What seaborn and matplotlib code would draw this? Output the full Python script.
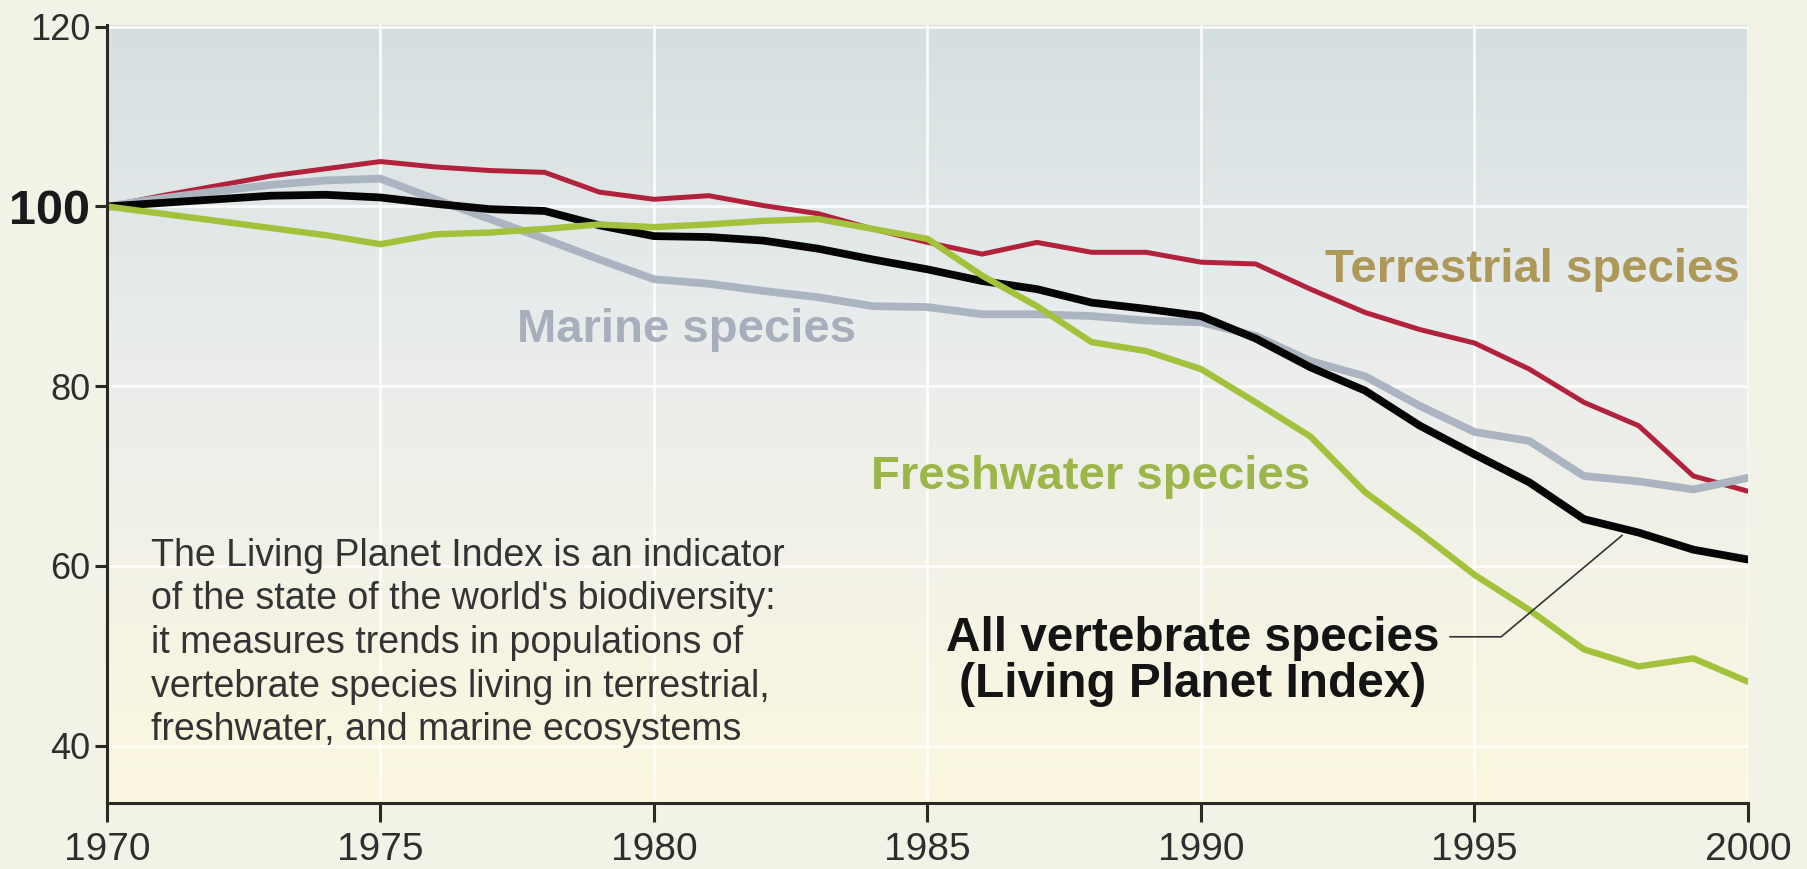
import numpy as np
import pandas as pd
import matplotlib
matplotlib.use("Agg")
import matplotlib.pyplot as plt
from matplotlib.colors import LinearSegmentedColormap
import seaborn as sns

# ---------------- data ----------------
years = [1970, 1971, 1972, 1973, 1974, 1975, 1976, 1977, 1978, 1979,
         1980, 1981, 1982, 1983, 1984, 1985, 1986, 1987, 1988, 1989,
         1990, 1991, 1992, 1993, 1994, 1995, 1996, 1997, 1998, 1999, 2000]

terrestrial = [100, 101.2, 102.3, 103.4, 104.2, 105.0, 104.4, 104.0, 103.8, 101.6,
               100.8, 101.2, 100.1, 99.2, 97.5, 96.0, 94.7, 96.0, 94.9, 94.9,
               93.8, 93.6, 90.8, 88.2, 86.3, 84.8, 81.9, 78.2, 75.6, 70.0, 68.3]

marine = [100, 100.9, 101.7, 102.4, 102.9, 103.1, 100.8, 98.6, 96.4, 94.1,
          91.9, 91.4, 90.6, 89.9, 88.9, 88.8, 88.0, 88.0, 87.8, 87.3,
          87.1, 85.6, 82.8, 81.1, 77.8, 74.9, 73.9, 70.0, 69.4, 68.5, 69.8]

all_vertebrate = [100, 100.4, 100.8, 101.2, 101.3, 101.0, 100.3, 99.7, 99.5, 97.9,
                  96.7, 96.6, 96.2, 95.3, 94.1, 93.0, 91.7, 90.8, 89.3, 88.6,
                  87.8, 85.3, 82.1, 79.5, 75.6, 72.4, 69.3, 65.2, 63.7, 61.8, 60.7]

freshwater = [100, 99.2, 98.4, 97.6, 96.8, 95.8, 96.9, 97.1, 97.5, 98.0,
              97.7, 98.0, 98.4, 98.6, 97.5, 96.4, 92.3, 88.9, 84.9, 83.9,
              81.9, 78.2, 74.4, 68.2, 63.7, 59.0, 55.1, 50.7, 48.8, 49.7, 47.1]

x_ticks = [1970, 1975, 1980, 1985, 1990, 1995, 2000]
y_ticks = [40, 60, 80, 100, 120]
y_tick_labels = ["40", "60", "80", "100", "120"]

label_terrestrial = "Terrestrial species"
label_marine = "Marine species"
label_freshwater = "Freshwater species"
label_all = "All vertebrate species\n(Living Planet Index)"
paragraph = ("The Living Planet Index is an indicator\n"
             "of the state of the world's biodiversity:\n"
             "it measures trends in populations of\n"
             "vertebrate species living in terrestrial,\n"
             "freshwater, and marine ecosystems")

# ---------------- style ----------------
sns.set_theme(style="white")
plt.rcParams['font.family'] = ['Liberation Sans', 'DejaVu Sans']

FIG_BG = "#f3f2e7"
fig = plt.figure(figsize=(18.08, 8.69), dpi=100, facecolor=FIG_BG)
ax = fig.add_axes([107 / 1808, 1 - 803 / 869, (1748 - 107) / 1808, (803 - 25) / 869])
ax.set_facecolor(FIG_BG)

# gradient panel background
grad_cmap = LinearSegmentedColormap.from_list(
    "bg", [(0.0, "#fbf7df"), (0.35, "#f2f1e8"), (0.62, "#e8ecec"), (1.0, "#d6dfe0")])
grad = np.linspace(0, 1, 256).reshape(-1, 1)
ax.imshow(grad, cmap=grad_cmap, origin="lower", extent=[0, 1, 0, 1],
          transform=ax.transAxes, aspect="auto", zorder=0, interpolation="bicubic")

df = pd.DataFrame({"year": years, "Terrestrial": terrestrial, "Marine": marine,
                   "All": all_vertebrate, "Freshwater": freshwater})

sns.lineplot(data=df, x="year", y="Terrestrial", ax=ax, color="#b3223d", linewidth=3.6, zorder=3)
sns.lineplot(data=df, x="year", y="Marine", ax=ax, color="#abb5c1", linewidth=5.6, zorder=4)
sns.lineplot(data=df, x="year", y="All", ax=ax, color="#050505", linewidth=5.6, zorder=5)
sns.lineplot(data=df, x="year", y="Freshwater", ax=ax, color="#a3c23c", linewidth=4.6, zorder=6)

ax.set_xlim(1970, 2000)
ax.set_ylim(33.6, 120.2)
ax.set_xlabel("")
ax.set_ylabel("")

ax.set_xticks(x_ticks)
ax.set_xticklabels([str(t) for t in x_ticks])
ax.set_yticks(y_ticks)
ax.set_yticklabels(y_tick_labels)

ax.grid(True, color="white", linewidth=2.0, alpha=0.85, zorder=1)
ax.set_axisbelow(True)

for side in ["top", "right"]:
    ax.spines[side].set_visible(False)
for side in ["left", "bottom"]:
    ax.spines[side].set_color("#2a2a22")
    ax.spines[side].set_linewidth(2.2)
    ax.spines[side].set_zorder(10)

ax.tick_params(axis="x", which="major", bottom=True, length=14, width=2.2,
               color="#2a2a22", pad=7, labelsize=28, labelcolor="#2e2e2e")
ax.tick_params(axis="y", which="major", left=True, length=9, width=2.2,
               color="#2a2a22", pad=3, labelsize=26, labelcolor="#2e2e2e")
for lab in ax.get_yticklabels():
    if lab.get_text() == "100":
        lab.set_fontweight("bold")
        lab.set_fontsize(35)
        lab.set_color("#1a1a1a")

# ---------------- annotations ----------------
ax.text(1992.26, 91.6, label_terrestrial, color="#ad9858", fontsize=34,
        fontweight="bold", ha="left", va="baseline", zorder=7)
ax.text(1977.5, 84.9, label_marine, color="#a7afbd", fontsize=34,
        fontweight="bold", ha="left", va="baseline", zorder=7)
ax.text(1983.96, 68.5, label_freshwater, color="#9cb64a", fontsize=34,
        fontweight="bold", ha="left", va="baseline", zorder=7)
ax.text(1989.85, 45.4, label_all, color="#141414", fontsize=34.4,
        fontweight="bold", ha="center", va="baseline", multialignment="center",
        linespacing=1.02, zorder=7)
ax.annotate("", xy=(1997.7, 63.4), xytext=(1994.55, 52.1),
            arrowprops=dict(arrowstyle="-", color="#333333", lw=1.2,
                            shrinkA=0, shrinkB=0,
                            connectionstyle="angle,angleA=0,angleB=40,rad=0"),
            zorder=7)
ax.text(1970.8, 40.6, paragraph, color="#333333", fontsize=27,
        ha="left", va="baseline", linespacing=1.27, zorder=7)

fig.savefig("out.png", dpi=100, facecolor=FIG_BG)
